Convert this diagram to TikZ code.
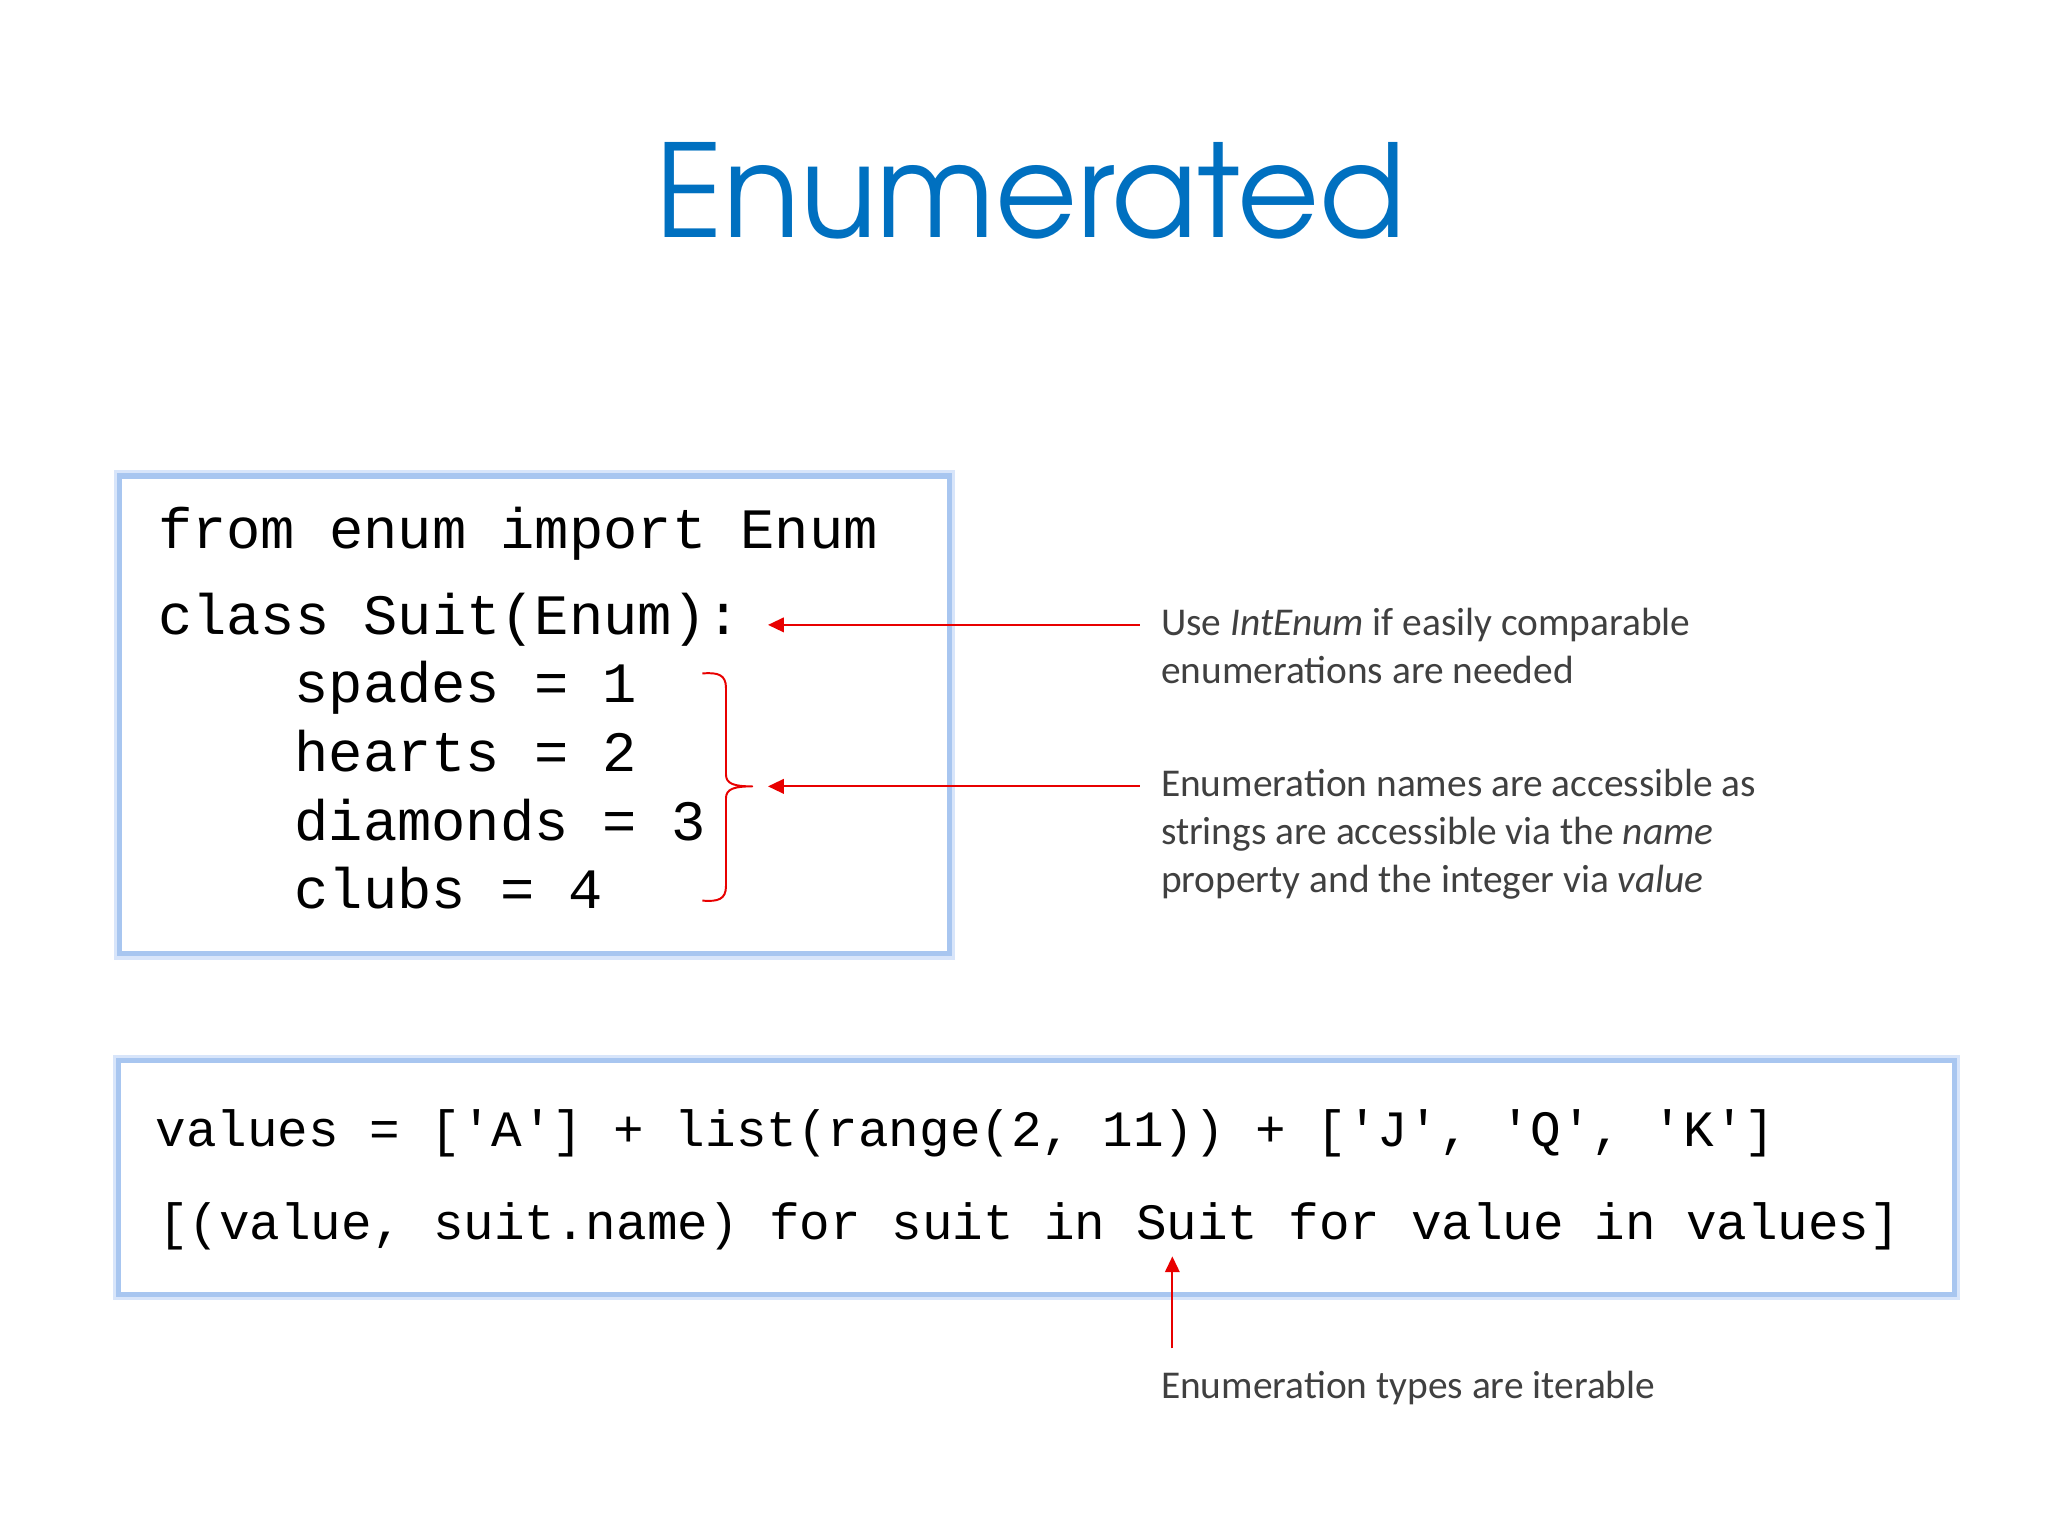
\documentclass[tikz,border=0pt]{standalone}
\usepackage{graphicx}
\usepackage{fontspec}
\setmainfont{Carlito}
\newfontfamily\codefont{Liberation Mono}
\IfFontExistsTF{texgyreadventor-regular.otf}
  {\newfontfamily\titlefont{texgyreadventor-regular.otf}\def\titlescale{0.98}\def\titlesz{49pt}}
  {\newfontfamily\titlefont{Poppins}\def\titlescale{0.895}\def\titlesz{52pt}}
\usetikzlibrary{arrows.meta}
\definecolor{titleblue}{RGB}{0,112,192}
\definecolor{boxblue}{RGB}{168,198,240}
\definecolor{boxglow}{RGB}{216,229,250}
\definecolor{annred}{RGB}{232,0,0}
\definecolor{anngray}{RGB}{64,64,64}
\begin{document}
\begin{tikzpicture}[x=0.5pt,y=-0.5pt,
  codebox/.style={draw=boxblue, line width=2pt, fill=white, inner sep=0,
    preaction={draw=boxglow, line width=4.5pt}},
  codeA/.style={anchor=base west, inner sep=0, font=\codefont\fontsize{21.75pt}{26pt}\selectfont},
  codeB/.style={anchor=base west, inner sep=0, font=\codefont\fontsize{19.4pt}{24pt}\selectfont},
  ann/.style={anchor=base west, inner sep=0, text=anngray, font=\fontsize{15pt}{18pt}\selectfont},
  redarrow/.style={draw=annred, line width=0.8pt, -{Triangle[length=6pt,width=5.5pt]}},
  bracestyle/.style={draw=annred, line width=0.75pt, line join=round}
]
\useasboundingbox (0,0) rectangle (1560,1170);
\fill[white] (0,0) rectangle (1560,1170);

% title
\node[anchor=base, inner sep=0, text=titleblue, font=\titlefont\fontsize{\titlesz}{60pt}\selectfont] (title) at (785,181) {\scalebox{\titlescale}[1]{Enumerated}};

% boxes
\node[codebox, minimum width=316pt, minimum height=182pt] (box1) at (407,544.5) {};
\node[codebox, minimum width=699pt, minimum height=89pt] (box2) at (789.5,897) {};

% code in box 1
\node[codeA] (l1) at (120,417.5) {from enum import Enum};
\node[codeA] (l2) at (120,483) {class Suit(Enum):};
\node[codeA] (l3) at (224,535) {spades = 1};
\node[codeA] (l4) at (224,588) {hearts = 2};
\node[codeA] (l5) at (224,640) {diamonds = 3};
\node[codeA] (l6) at (224,692) {clubs = 4};

% code in box 2
\node[codeB] (m1) at (118,873) {values = ['A'] + list(range(2, 11)) + ['J', 'Q', 'K']};
\node[codeB] (m2) at (120,944) {[(value, suit.name) for suit in Suit for value in values]};

% annotations
\node[ann] (n1a) at (884,484) {Use \textit{IntEnum} if easily comparable};
\node[ann] (n1b) at (884,520.5) {enumerations are needed};
\node[ann] (n2a) at (884,607) {Enumeration names are accessible as};
\node[ann] (n2b) at (884,643.5) {strings are accessible via the \textit{name}};
\node[ann] (n2c) at (884,680) {property and the integer via \textit{value}};
\node[ann] (n3) at (884,1065) {Enumeration types are iterable};

% arrows
\coordinate (a1s) at (868,476);
\coordinate (a1e) at (585,476);
\coordinate (a2s) at (868,599);
\coordinate (a2e) at (585,599);
\coordinate (a3s) at (893,1027);
\coordinate (a3e) at (893,957);
\draw[redarrow] (a1s) -- (a1e);
\draw[redarrow] (a2s) -- (a2e);
\draw[redarrow] (a3s) -- (a3e);

% brace
\coordinate (bt) at (535,513);
\coordinate (bm) at (573,599);
\coordinate (bb) at (535,686);
\draw[bracestyle] (bt) .. controls (547,512) and (553,514) .. (553,524)
  -- (553,590) .. controls (553,597) and (559,599) .. (bm)
  .. controls (559,599) and (553,601) .. (553,608)
  -- (553,675) .. controls (553,685) and (547,687) .. (bb);
\end{tikzpicture}
\end{document}
